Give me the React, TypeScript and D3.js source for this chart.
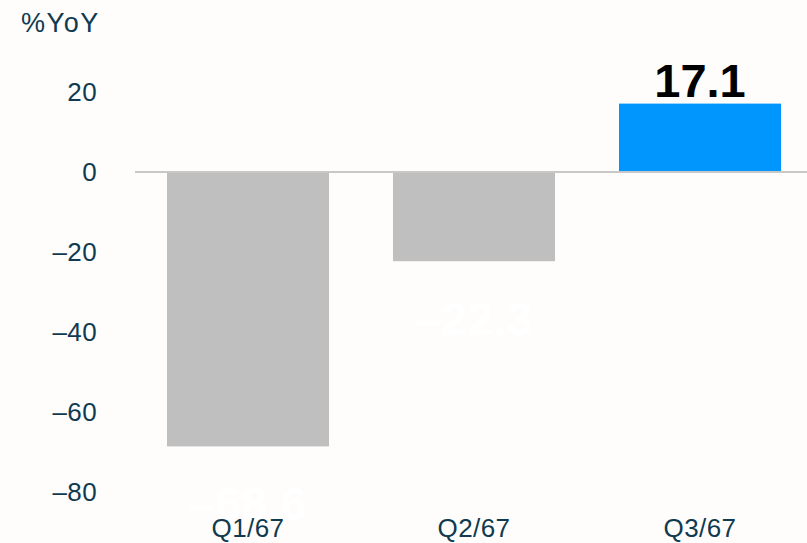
import React from "react";
import * as d3 from "d3";

const categories = ["Q1/67", "Q2/67", "Q3/67"];
const values = [-68.6, -22.3, 17.1];
const valueLabels = ["-68.6", "-22.3", "17.1"];
const yTicks = [20, 0, -20, -40, -60, -80];
const barColors = ["#bfbfbf", "#bfbfbf", "#0096fe"];
const labelColors = ["#ffffff", "#ffffff", "#000000"];

export default function App() {
  const W = 807;
  const H = 543;
  const y = d3.scaleLinear().domain([-80, 20]).range([492, 92]);
  const x = d3.scaleBand<string>().domain(categories).range([135, 813]).paddingInner(0.283).paddingOuter(0.1415);
  const textColor = "#0f3a50";
  const font = "'Liberation Sans', Arial, Helvetica, sans-serif";
  const fs = 26;
  return (
    <svg width={W} height={H} style={{ position: "absolute", left: 0, top: 0, background: "#fffdfc" }} fontFamily={font}>
      <rect x={0} y={0} width={W} height={H} fill="#fffdfc" />
      <text x={21} y={32} fontSize={27} letterSpacing={1.6} fill={textColor}>%YoY</text>
      {yTicks.map((t) => (
        <text key={t} x={97} y={y(t)} dy="0.36em" textAnchor="end" fontSize={fs} letterSpacing={0.4} fill={textColor}>
          {t < 0 ? "\u2013" + Math.abs(t) : t}
        </text>
      ))}
      {values.map((v, i) => {
        const x0 = x(categories[i])!;
        const y0 = Math.min(y(v), y(0));
        const h = Math.abs(y(v) - y(0));
        return <rect key={i} x={x0} y={y0} width={x.bandwidth()} height={h} fill={barColors[i]} />;
      })}
      <line x1={135} x2={W} y1={y(0)} y2={y(0)} stroke="#c8c8c8" strokeWidth={2} />
      {values.map((v, i) => {
        const cx = x(categories[i])! + x.bandwidth() / 2;
        const ly = v >= 0 ? y(v) - 7 : y(v) + 74;
        return (
          <text key={i} x={cx} y={ly} textAnchor="middle" fontSize={47} fontWeight="bold" fill={labelColors[i]}>
            {valueLabels[i].replace("-", "\u2013")}
          </text>
        );
      })}
      {categories.map((c) => (
        <text key={c} x={x(c)! + x.bandwidth() / 2} y={537} textAnchor="middle" fontSize={fs} letterSpacing={0.4} fill={textColor}>
          {c}
        </text>
      ))}
    </svg>
  );
}
